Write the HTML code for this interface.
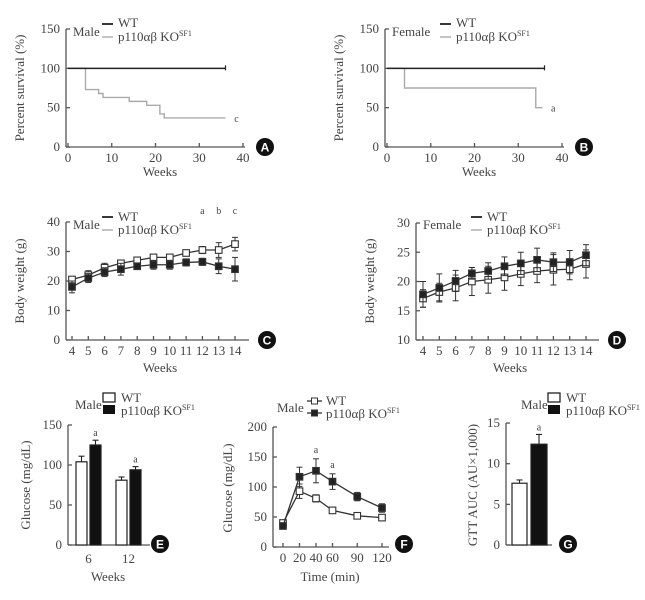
<!DOCTYPE html>
<html><head><meta charset="utf-8"><style>
html,body{margin:0;padding:0;background:#fff;}
svg{display:block;font-family:"Liberation Serif",serif;}
text{fill:#444;}
</style></head><body>
<svg id="fig" width="645" height="600" viewBox="0 0 645 600" xmlns="http://www.w3.org/2000/svg"></svg>
<script>
// ---- Data ----
const survWeeksA = [0,4,7,8,14,18,21,22,36];
const survKOA = [100,73,68,63,58,53,42,37,37];
const survWeeksB = [0,4,34,35.5];
const survKOB = [100,75,50,50];
const weightWeeks = [4,5,6,7,8,9,10,11,12,13,14];
const maleWT = [18,21,23,24,25,25.5,25.5,26.3,26.5,25,24];
const maleWTerr = [2,1.5,1.5,2,1,1.5,1.5,1.2,1.2,2.5,4];
const maleKO = [20.5,22,24.5,26,27,28,28,29.5,30.5,30.5,32.5];
const maleKOerr = [1,1.5,1.5,1,1,1,0.8,1,1.2,2.5,2.3];
const femWT = [17.8,18.9,20.1,21.4,21.8,22.6,23.1,23.7,23.3,23.3,24.5];
const femWTerr = [2.2,2.4,1.8,1,1.4,1.6,1.9,2,1.6,2,1.8];
const femKO = [17.1,18.2,18.9,20,20.3,20.7,21.3,21.8,22,22.1,23];
const femKOerr = [1.5,1.5,2.2,2.4,2.3,2.2,2,2,2.6,1.8,2.4];
const glucCats = ['6','12'];
const glucWT = [104,81];
const glucWTerr = [7,4];
const glucKO = [125,94];
const glucKOerr = [6,4];
const gttTimes = [0,20,40,60,90,120];
const gttWT = [40,93,81,61,52,49];
const gttWTerr = [3,12,6,5,2,2];
const gttKO = [35,117,127,109,84,65];
const gttKOerr = [3,16,20,13,7,7];
const aucWT = [7.6];
const aucWTerr = [0.4];
const aucKO = [12.4];
const aucKOerr = [1.2];

const S = document.getElementById('fig');
const NS = 'http://www.w3.org/2000/svg';
function mk(tag, a, name){
  const e = document.createElementNS(NS, tag);
  for (const k in a) e.setAttribute(k, a[k]);
  
  
  S.appendChild(e); return e;
}
function line(x1,y1,x2,y2,name,c,w){return mk('line',{x1,y1,x2,y2,stroke:c||'#555','stroke-width':w||1.3},name);}
function txt(x,y,s,name,o){o=o||{};const e=mk('text',Object.assign({x,y,'font-size':o.fs||13,'text-anchor':o.a||'middle'},o.extra||{}),name);e.textContent=s;return e;}
function rtxt(x,y,s,name){const e=mk('text',{x:0,y:0,'font-size':13,'text-anchor':'middle',transform:`translate(${x},${y}) rotate(-90)`},name);e.textContent=s;}
function ko(x,y,name,fs){const e=mk('text',{x,y,'font-size':fs||13,'text-anchor':'start'},name);e.innerHTML='p110αβ KO<tspan font-size="8" dy="-5">SF1</tspan>';}
function badge(x,y,L,name){mk('circle',{cx:x,cy:y,r:9,fill:'#111'},name);const t=txt(x,y+4.5,L,name+'-letter',{fs:12,extra:{'font-family':'Liberation Sans, sans-serif','font-weight':'bold'}});t.setAttribute('fill','#fff');t.style.fill='#fff';}
function yaxis(x,y0,y1,ticks,ys,name){line(x,y0,x,y1,name+'-y-axis');ticks.forEach(v=>{line(x,ys(v),x+4,ys(v),name+'-y-tick');txt(x-6,ys(v)+4,String(v),name+'-y-tick-label',{a:'end'});});}
function xaxis(y,x0,x1,ticks,xs,name,labels){line(x0,y,x1,y,name+'-x-axis');ticks.forEach((v,i)=>{line(xs(v),y,xs(v),y-4,name+'-x-tick');txt(xs(v),y+15,labels?labels[i]:String(v),name+'-x-tick-label');});}
function stepPath(xsA,ysA,xs,ys){let d=`M${xs(xsA[0])},${ys(ysA[0])}`;for(let i=1;i<xsA.length;i++){d+=` H${xs(xsA[i])} V${ys(ysA[i])}`;}return d;}

// ---- Panel A / B survival ----
function survival(ox,weeksKO,valsKO,sex,letter,badgeL,letterPos,name){
  const xs=v=>ox+2+v*(175/40), ys=v=>147-v*(118/150);
  yaxis(ox,29,147,[0,50,100,150],ys,name);
  xaxis(147,ox,ox+179,[0,10,20,30,40],xs,name);
  txt(ox+94,176,'Weeks',name+'-x-title');
  rtxt(ox-42,88,'Percent survival (%)',name+'-y-title');
  mk('path',{d:stepPath(weeksKO,valsKO,xs,ys),fill:'none',stroke:'#aaa','stroke-width':1.4},name+'-ko-line');
  line(xs(0),ys(100),xs(36),ys(100),name+'-wt-line','#222',1.5);
  line(xs(36),ys(100)-3,xs(36),ys(100)+2,name+'-wt-censor','#222',1.2);
  txt(xs(letterPos[0]),ys(letterPos[1])+4,letter,name+'-sig-letter',{fs:10});
  txt(ox+7,36,sex,name+'-sex-label',{a:'start'});
  const lx=ox+(sex==='Male'?36:55);
  line(lx,24,lx+11,24,name+'-legend-wt-line','#222',1.8);
  txt(lx+16,27,'WT',name+'-legend-wt-label',{a:'start'});
  line(lx,37,lx+11,37,name+'-legend-ko-line','#aaa',1.4);
  ko(lx+16,41,name+'-legend-ko-label');
  badge(ox+199,147,badgeL,name+'-badge');
}
survival(66,survWeeksA,survKOA,'Male','c','A',[38.5,37],'panel-a');
survival(385,survWeeksB,survKOB,'Female','a','B',[38,50],'panel-b');

// ---- Panels C / D body weight ----
function weightPanel(ox,tickStart,ys,yticks,yTop,wt,wte,kk,kke,sex,badgeL,letters,name){
  const xs=w=>tickStart+(w-4)*16.3;
  yaxis(ox,yTop,340,yticks,ys,name);
  xaxis(340,ox,ox+183,weightWeeks,xs,name);
  txt(ox+94,372,'Weeks',name+'-x-title');
  rtxt(ox-42,281,'Body weight (g)',name+'-y-title');
  [[kk,kke,'#fff','ko'],[wt,wte,'#222','wt']].forEach(([d,e,f,k])=>{
    mk('polyline',{points:weightWeeks.map((w,i)=>`${xs(w)},${ys(d[i])}`).join(' '),fill:'none',stroke:'#333','stroke-width':1.3},name+'-'+k+'-line');
    weightWeeks.forEach((w,i)=>{
      const x=xs(w);
      line(x,ys(d[i]-e[i]),x,ys(d[i]+e[i]),name+'-'+k+'-errorbar','#333',1);
      line(x-3,ys(d[i]+e[i]),x+3,ys(d[i]+e[i]),name+'-'+k+'-errorcap','#333',1);
      line(x-3,ys(d[i]-e[i]),x+3,ys(d[i]-e[i]),name+'-'+k+'-errorcap','#333',1);
      mk('rect',{x:x-3.3,y:ys(d[i])-3.3,width:6.6,height:6.6,fill:f,stroke:'#333','stroke-width':1.1},name+'-'+k+'-point');
    });
  });
  letters.forEach(([w,l])=>txt(xs(w),214,l,name+'-sig-letter',{fs:10}));
  txt(ox+7,229,sex,name+'-sex-label',{a:'start'});
  const lx=ox+(sex==='Male'?36:55);
  line(lx,217,lx+11,217,name+'-legend-wt-line','#222',1.8);
  txt(lx+16,221,'WT',name+'-legend-wt-label',{a:'start'});
  line(lx,230,lx+11,230,name+'-legend-ko-line','#aaa',1.4);
  ko(lx+16,234,name+'-legend-ko-label');
  badge(ox+201,340,badgeL,name+'-badge');
}
weightPanel(66,72,v=>340-v*2.95,[0,10,20,30,40],222,maleWT,maleWTerr,maleKO,maleKOerr,'Male','C',[[12,'a'],[13,'b'],[14,'c']],'panel-c');
weightPanel(416,423,v=>340-(v-10)*5.85,[10,15,20,25,30],223,femWT,femWTerr,femKO,femKOerr,'Female','D',[],'panel-d');

// ---- Bar legend helper ----
function barLegend(x,maleX,name){
  txt(maleX,409,'Male',name+'-sex-label',{a:'start'});
  mk('rect',{x:x,y:393,width:12,height:9,fill:'#fff',stroke:'#222','stroke-width':1.3},name+'-legend-wt-swatch');
  txt(x+18,402,'WT',name+'-legend-wt-label',{a:'start'});
  mk('rect',{x:x,y:405,width:12,height:9,fill:'#111'},name+'-legend-ko-swatch');
  ko(x+18,415,name+'-legend-ko-label');
}
function bar(x,w,v,e,ys,fill,name){
  mk('rect',{x,y:ys(v),width:w,height:ys(0)-ys(v),fill,stroke:'#222','stroke-width':1.2},name);
  line(x+w/2,ys(v),x+w/2,ys(v+e),name+'-errorbar','#222',1.1);
  line(x+w/2-3,ys(v+e),x+w/2+3,ys(v+e),name+'-errorcap','#222',1.1);
}

// ---- Panel E ----
(function(){
  const ys=v=>545-v*0.8, name='panel-e';
  yaxis(68,425,545,[0,50,100,150],ys,name);
  line(68,545,150,545,name+'-x-axis');
  const cx=[88.5,128.5];
  glucCats.forEach((c,i)=>{
    bar(cx[i]-12.5,11,glucWT[i],glucWTerr[i],ys,'#fff',name+'-bar-wt-'+c);
    bar(cx[i]+1.5,11,glucKO[i],glucKOerr[i],ys,'#111',name+'-bar-ko-'+c);
    txt(cx[i]+7,ys(glucKO[i]+glucKOerr[i])-4,'a',name+'-sig-letter',{fs:10});
    txt(cx[i],563,c,name+'-x-tick-label');
  });
  txt(108,581,'Weeks',name+'-x-title');
  rtxt(30,485,'Glucose (mg/dL)',name+'-y-title');
  barLegend(103,75,name);
  badge(160,544,'E',name+'-badge');
})();

// ---- Panel F ----
(function(){
  const xs=t=>283+t*(99/120), ys=v=>547-v*0.6, name='panel-f';
  yaxis(273,427,547,[0,50,100,150,200],ys,name);
  xaxis(547,273,389,gttTimes,xs,name);
  txt(330,581,'Time (min)',name+'-x-title');
  rtxt(232,488,'Glucose (mg/dL)',name+'-y-title');
  [[gttWT,gttWTerr,'#fff','wt'],[gttKO,gttKOerr,'#222','ko']].forEach(([d,e,f,k])=>{
    mk('polyline',{points:gttTimes.map((t,i)=>`${xs(t)},${ys(d[i])}`).join(' '),fill:'none',stroke:'#333','stroke-width':1.3},name+'-'+k+'-line');
    gttTimes.forEach((t,i)=>{
      const x=xs(t);
      line(x,ys(d[i]-e[i]),x,ys(d[i]+e[i]),name+'-'+k+'-errorbar','#333',1);
      line(x-3,ys(d[i]+e[i]),x+3,ys(d[i]+e[i]),name+'-'+k+'-errorcap','#333',1);
      line(x-3,ys(d[i]-e[i]),x+3,ys(d[i]-e[i]),name+'-'+k+'-errorcap','#333',1);
      mk('rect',{x:x-3.3,y:ys(d[i])-3.3,width:6.6,height:6.6,fill:f,stroke:'#333','stroke-width':1.1},name+'-'+k+'-point');
    });
  });
  [2,3].forEach(i=>txt(xs(gttTimes[i]),ys(gttKO[i]+gttKOerr[i])-6,'a',name+'-sig-letter',{fs:10}));
  txt(277,412,'Male',name+'-sex-label',{a:'start'});
  line(307,401,322,401,name+'-legend-wt-line','#333',1.3);
  mk('rect',{x:311.5,y:398,width:6,height:6,fill:'#fff',stroke:'#333'},name+'-legend-wt-marker');
  txt(326,405,'WT',name+'-legend-wt-label',{a:'start'});
  line(307,413,322,413,name+'-legend-ko-line','#333',1.3);
  mk('rect',{x:311.5,y:410,width:6,height:6,fill:'#222',stroke:'#333'},name+'-legend-ko-marker');
  ko(326,418,name+'-legend-ko-label');
  badge(404,544,'F',name+'-badge');
})();

// ---- Panel G ----
(function(){
  const ys=v=>545-v*8.13, name='panel-g';
  yaxis(506,423,545,[0,5,10,15],ys,name);
  line(506,545,552,545,name+'-x-axis');
  bar(512,15,aucWT[0],aucWTerr[0],ys,'#fff',name+'-bar-wt');
  bar(531,16,aucKO[0],aucKOerr[0],ys,'#111',name+'-bar-ko');
  txt(539,ys(aucKO[0]+aucKOerr[0])-4,'a',name+'-sig-letter',{fs:10});
  rtxt(477,485,'GTT AUC (AU×1,000)',name+'-y-title');
  barLegend(548,521,name);
  badge(568,544,'G',name+'-badge');
})();
</script>
</body></html>
